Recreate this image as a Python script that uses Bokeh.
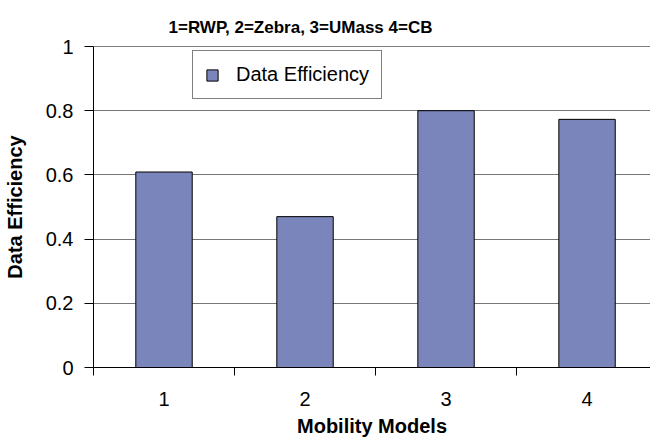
from bokeh.plotting import figure
from bokeh.models import Range1d, FixedTicker, Legend, LegendItem, Span, ColumnDataSource
from bokeh.embed import file_html
from bokeh.resources import INLINE

categories = [1, 2, 3, 4]
tick_labels = {1: "1", 2: "2", 3: "3", 4: "4"}
efficiency = [0.609, 0.47, 0.80, 0.773]
series_name = "Data Efficiency"
title_text = "1=RWP, 2=Zebra, 3=UMass 4=CB"

FONT = "Liberation Sans"

p = figure(width=650, height=439, output_backend="svg", toolbar_location=None,
           x_range=Range1d(0.5, 4.45), y_range=Range1d(0, 1),
           min_border_left=93, min_border_right=0, min_border_top=46, min_border_bottom=60)

p.title.text = title_text
p.title.text_font = FONT
p.title.text_font_size = "17px"
p.title.text_font_style = "bold"
p.title.align = "left"
p.title.offset = 75
p.title.standoff = 20
p.title.text_color = "black"

p.outline_line_color = None
p.background_fill_color = "white"
p.border_fill_color = "white"

src = ColumnDataSource(dict(x=categories, top=efficiency))
r = p.vbar(x="x", top="top", width=0.4, source=src, fill_color="#7A85BC",
           line_color="black", line_width=1)

# grid
p.xgrid.visible = False
p.ygrid.ticker = FixedTicker(ticks=[0.2, 0.4, 0.6, 0.8])
p.ygrid.grid_line_color = "#777777"
p.ygrid.grid_line_width = 1
p.add_layout(Span(location=1, dimension="width", line_color="black", line_width=1))

# x axis
xa = p.xaxis[0]
xa.ticker = FixedTicker(ticks=categories, minor_ticks=[0.5, 1.5, 2.5, 3.5])
xa.major_label_overrides = tick_labels
xa.major_tick_out = 0
xa.major_tick_in = 0
xa.minor_tick_out = 8
xa.minor_tick_in = 0
xa.minor_tick_line_color = "black"
xa.major_label_standoff = 16
xa.axis_label = "Mobility Models"
xa.axis_label_standoff = 6

# y axis
ya = p.yaxis[0]
ya.ticker = FixedTicker(ticks=[0, 0.2, 0.4, 0.6, 0.8, 1.0])
ya.major_label_overrides = {0: "0", 1: "1"}
ya.major_tick_out = 9
ya.major_tick_in = 0
ya.minor_tick_line_color = None
ya.major_label_standoff = 11
ya.axis_label = "Data Efficiency"
ya.axis_label_standoff = 17

for ax in (xa, ya):
    ax.axis_line_color = "black"
    ax.major_label_text_font = FONT
    ax.major_label_text_font_size = "20px"
    ax.major_label_text_color = "black"
    ax.axis_label_text_font = FONT
    ax.axis_label_text_font_size = "20px"
    ax.axis_label_text_font_style = "bold"
    ax.axis_label_text_color = "black"
xa.major_tick_line_color = None
ya.major_tick_line_color = "black"

legend = Legend(items=[LegendItem(label=series_name, renderers=[r])],
                location=(99, 268), orientation="vertical",
                label_text_font=FONT, label_text_font_size="20px",
                label_text_color="black",
                glyph_width=14, glyph_height=14, label_standoff=17,
                padding=12, margin=0, spacing=0,
                border_line_color="black", border_line_width=1,
                background_fill_alpha=1)
p.add_layout(legend)

open("out.html", "w").write(file_html(p, INLINE))
